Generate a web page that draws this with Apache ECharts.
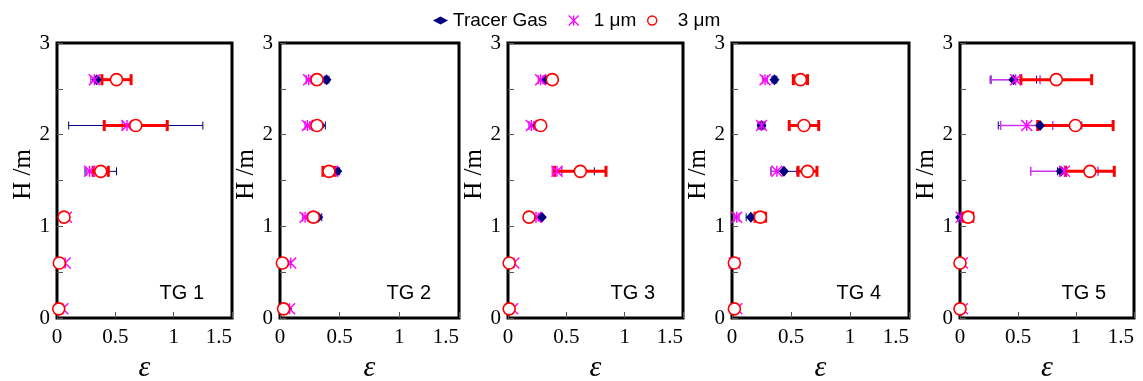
<!DOCTYPE html>
<html>
<head>
<meta charset="utf-8">
<script src="https://cdn.jsdelivr.net/npm/echarts@6/dist/echarts.min.js"></script>
<style>
  html, body { margin: 0; padding: 0; background: #fff; }
  #chart { width: 1143px; height: 381px; }
</style>
</head>
<body>
<div id="chart"></div>
<script>
// ---------------- data ----------------
const heights = [0.1, 0.6, 1.1, 1.6, 2.1, 2.6];           // H (m) for each measuring row
const panelNames = ['TG 1', 'TG 2', 'TG 3', 'TG 4', 'TG 5'];
const xTickValues = [0, 0.5, 1, 1.5];
const yTickValues = [0, 1, 2, 3];
const seriesNames = ['Tracer Gas', '1 \u03bcm', '3 \u03bcm'];

// mean values per panel (rows follow `heights`)
const tracerMean = [
  [0.02, 0.03, 0.06, 0.375, 0.675, 0.34],
  [0.06, 0.03, 0.32, 0.48, 0.34, 0.39],
  [0.01, 0.02, 0.29, 0.60, 0.25, 0.32],
  [0.02, 0.01, 0.16, 0.44, 0.25, 0.36],
  [0.00, 0.00, 0.00, 0.87, 0.69, 0.46]
];
const tracerErr = [
  [0, 0, 0, 0.135, 0.575, 0.02],
  [0, 0, 0.03, 0.02, 0.04, 0.02],
  [0, 0, 0, 0.14, 0.02, 0.02],
  [0, 0, 0.04, 0.11, 0.03, 0.02],
  [0, 0, 0, 0.03, 0.36, 0.20]
];
const um1Mean = [
  [0.05, 0.07, 0.08, 0.28, 0.60, 0.32],
  [0.08, 0.09, 0.21, 0.44, 0.23, 0.24],
  [0.04, 0.05, 0.24, 0.42, 0.20, 0.28],
  [0.04, 0.02, 0.04, 0.38, 0.25, 0.28],
  [0.02, 0.02, 0.01, 0.90, 0.575, 0.48]
];
const um1Err = [
  [0, 0, 0, 0.03, 0.04, 0.03],
  [0, 0, 0.02, 0.02, 0.02, 0.02],
  [0, 0, 0.02, 0.04, 0.02, 0.02],
  [0, 0, 0.02, 0.05, 0.02, 0.02],
  [0, 0, 0.01, 0.29, 0.225, 0.21]
];
const um3Mean = [
  [0.015, 0.02, 0.06, 0.375, 0.675, 0.51],
  [0.03, 0.02, 0.28, 0.41, 0.31, 0.31],
  [0.01, 0.01, 0.18, 0.62, 0.28, 0.38],
  [0.02, 0.02, 0.24, 0.64, 0.61, 0.58],
  [0.00, 0.00, 0.07, 1.12, 0.995, 0.83]
];
const um3Err = [
  [0, 0, 0.01, 0.065, 0.27, 0.125],
  [0, 0, 0.02, 0.05, 0.02, 0.02],
  [0, 0, 0.01, 0.22, 0.01, 0.01],
  [0, 0, 0.045, 0.08, 0.125, 0.06],
  [0, 0, 0.04, 0.21, 0.325, 0.305]
];

// ---------------- layout / style ----------------
const gridLeft = [57, 280, 508, 732, 960];
const gridWidth = [175, 179, 175, 177, 174];
const gridTop = 43, gridHeight = 275;

const NAVY = '#000080', MAGENTA = '#ff00ff', MAG_BAR = '#cc33ee', RED = '#ff0000';
const STAR = 'path://M0,0L10,10M10,0L0,10M5,0L5,10';
const SERIF = 'Liberation Serif';
const SANS = 'Liberation Sans';

function errRender(color, lw, capH, capW) {
  return function (params, api) {
    const lo = api.value(0), hi = api.value(1), y = api.value(2);
    if (hi - lo <= 0) return null;
    const a = api.coord([lo, y]), b = api.coord([hi, y]);
    return {
      type: 'group',
      children: [
        { type: 'line', shape: { x1: a[0], y1: a[1], x2: b[0], y2: b[1] }, style: { stroke: color, lineWidth: lw } },
        { type: 'line', shape: { x1: a[0], y1: a[1] - capH / 2, x2: a[0], y2: a[1] + capH / 2 }, style: { stroke: color, lineWidth: capW } },
        { type: 'line', shape: { x1: b[0], y1: b[1] - capH / 2, x2: b[0], y2: b[1] + capH / 2 }, style: { stroke: color, lineWidth: capW } }
      ]
    };
  };
}

const grids = [], xAxes = [], yAxes = [], series = [], graphics = [];

panelNames.forEach((pname, i) => {
  grids.push({
    left: gridLeft[i], top: gridTop, width: gridWidth[i], height: gridHeight,
    containLabel: false, outerBoundsMode: 'none',
    show: true, borderColor: '#000', borderWidth: 3, backgroundColor: 'transparent'
  });
  xAxes.push({
    gridIndex: i, type: 'value', min: xTickValues[0], max: xTickValues[xTickValues.length - 1],
    interval: xTickValues[1] - xTickValues[0],
    axisLine: { show: false },
    axisTick: { show: true, inside: true, length: 6, lineStyle: { color: '#555', width: 1 } },
    splitLine: { show: false },
    axisLabel: { margin: 9, hideOverlap: false, alignMaxLabel: 'right', color: '#000', fontFamily: SERIF, fontSize: 21 },
    name: '\u03b5', nameLocation: 'middle', nameGap: 22,
    nameTextStyle: { color: '#000', fontFamily: SERIF, fontStyle: 'italic', fontSize: 30 }
  });
  yAxes.push({
    gridIndex: i, type: 'value', min: yTickValues[0], max: yTickValues[yTickValues.length - 1],
    interval: 0.5,
    axisLine: { show: false },
    axisTick: { show: true, inside: true, length: 6, lineStyle: { color: '#555', width: 1 } },
    splitLine: { show: false },
    axisLabel: {
      margin: 7, hideOverlap: false, color: '#000', fontFamily: SERIF, fontSize: 21,
      formatter: v => (yTickValues.indexOf(v) >= 0 ? String(v) : '')
    },
    name: 'H /m', nameLocation: 'middle', nameRotate: 90, nameGap: 21,
    nameTextStyle: { color: '#000', fontFamily: SERIF, fontSize: 25, padding: [0, 0, 0, 12] }
  });

  const groups = [
    { name: seriesNames[0], mean: tracerMean[i], err: tracerErr[i], bar: NAVY, lw: 1, capH: 8, capW: 1,
      symbol: 'diamond', size: [10, 11], style: { color: NAVY } },
    { name: seriesNames[1], mean: um1Mean[i], err: um1Err[i], bar: MAG_BAR, lw: 1.5, capH: 9, capW: 1.5,
      symbol: STAR, size: 11, style: { color: 'rgba(0,0,0,0)', borderColor: MAGENTA, borderWidth: 1.4 } },
    { name: seriesNames[2], mean: um3Mean[i], err: um3Err[i], bar: RED, lw: 3, capH: 11, capW: 3,
      symbol: 'circle', size: 12, style: { color: '#fff', borderColor: RED, borderWidth: 1.6 } }
  ];
  groups.forEach(g => {
    series.push({
      type: 'custom', name: g.name + ' error', xAxisIndex: i, yAxisIndex: i,
      renderItem: errRender(g.bar, g.lw, g.capH, g.capW),
      encode: { x: [0, 1], y: 2 },
      data: heights.map((h, k) => [g.mean[k] - g.err[k], g.mean[k] + g.err[k], h]),
      silent: true, animation: false
    });
    series.push({
      type: 'scatter', name: g.name, xAxisIndex: i, yAxisIndex: i,
      symbol: g.symbol, symbolSize: g.size, clip: false,
      itemStyle: Object.assign({ opacity: 1 }, g.style),
      data: heights.map((h, k) => [g.mean[k], h]),
      animation: false
    });
  });

  graphics.push({
    type: 'text', right: 1143 - (gridLeft[i] + gridWidth[i] - 28), top: 283,
    style: { text: pname, fill: '#000', font: '20px "Liberation Sans"' }
  });
});

const legendIcons = ['diamond', STAR, 'circle'];
const legendStyles = [
  { color: NAVY, borderWidth: 0 },
  { color: 'rgba(0,0,0,0)', borderColor: MAGENTA, borderWidth: 1.3 },
  { color: '#fff', borderColor: RED, borderWidth: 1.4 }
];
const legendLeft = [428, 563, 642];
const legendItemWidth = [15, 30, 41];
const legendItemHeight = [8, 10, 9];
const legends = seriesNames.map((n, j) => ({
  left: legendLeft[j], top: 6, orient: 'horizontal',
  itemWidth: legendItemWidth[j], itemHeight: legendItemHeight[j],
  data: [{ name: n, icon: legendIcons[j], itemStyle: legendStyles[j] }],
  textStyle: { color: '#000', fontFamily: SANS, fontSize: 19 },
  selectedMode: false
}));

const chart = echarts.init(document.getElementById('chart'), null, { renderer: 'canvas' });
chart.setOption({
  backgroundColor: '#fff',
  animation: false,
  textStyle: { fontFamily: SERIF },
  legend: legends,
  grid: grids,
  xAxis: xAxes,
  yAxis: yAxes,
  series: series,
  graphic: graphics
});
</script>
</body>
</html>
